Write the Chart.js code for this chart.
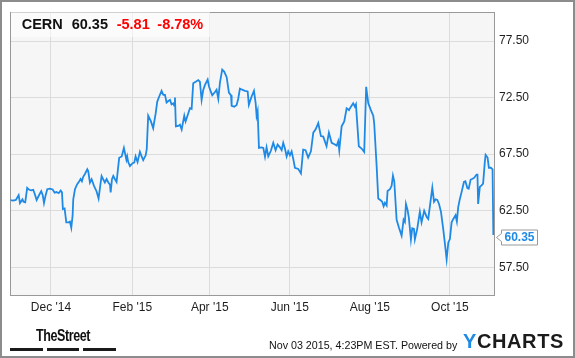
<!DOCTYPE html>
<html>
<head>
<meta charset="utf-8">
<script src="https://cdn.jsdelivr.net/npm/chart.js@4/dist/chart.umd.min.js"></script>
<style>
  html, body { margin: 0; padding: 0; background: #fff; }
  #wrap { position: relative; width: 575px; height: 358px; overflow: hidden; font-family: "Liberation Sans", Arial, sans-serif; }
  #c { position: absolute; left: 0; top: 0; }
  #frame { position: absolute; left: 0; top: 0; width: 575px; height: 358px; box-sizing: border-box; border: 2px solid #8c8c8c; pointer-events: none; }
  #hdrbox { position: absolute; left: 11px; top: 11px; width: 199px; height: 26px; background: rgba(255,255,255,0.55); }
  .h { position: absolute; top: 16px; font-weight: bold; font-size: 14.5px; line-height: 16px; white-space: nowrap; }
  .red { color: #ff0000; }
  .blk { color: #111; }
  #street { position: absolute; left: 36px; top: 326px; font-family: "Liberation Sans", Arial, sans-serif; font-weight: bold; font-size: 17px; line-height: 20px; letter-spacing: -0.6px; color: #111; white-space: nowrap; transform-origin: 0 0; }
  .bar { position: absolute; top: 348px; height: 3px; background: #1a1a1a; }
  #stamp { position: absolute; left: 269px; top: 338.6px; font-size: 10.7px; line-height: 12px; color: #111; white-space: nowrap; }
  #ych { position: absolute; left: 463px; top: 330.4px; font-size: 20px; line-height: 22px; font-weight: bold; letter-spacing: 0.6px; color: #1b1b1b; white-space: nowrap; }
  #ych span { color: #1e8ae6; }
</style>
</head>
<body>
<div id="wrap">
  <canvas id="c" width="575" height="358"></canvas>
  <div id="hdrbox"></div>
  <div class="h blk" style="left:21.7px">CERN</div>
  <div class="h blk" style="left:71.7px">60.35</div>
  <div class="h red" style="left:116.7px">-5.81</div>
  <div class="h red" style="left:157.3px">-8.78%</div>
  <div id="street">TheStreet</div>
  <div class="bar" style="left:10px;width:33px"></div>
  <div class="bar" style="left:47px;width:32px"></div>
  <div class="bar" style="left:83px;width:33px"></div>
  <div id="stamp">Nov 03 2015, 4:23PM EST. Powered by</div>
  <div id="ych"><span>Y</span>CHARTS</div>
  <div id="frame"></div>
</div>
<script>
// Days counted from Nov 03 2014 (day 0)
const days = [
  -2.7,-1.0,1.3,3.4,4.4,6.3,7.1,8.4,9.9,11.5,13.0,14.5,15.6,17.1,18.6,20.6,21.7,22.7,24.0,25.2,
  27.2,29.3,30.8,32.3,33.9,35.4,36.4,37.1,38.4,39.7,41.5,42.5,43.5,44.5,45.0,46.3,48.0,49.6,50.6,51.6,
  52.6,53.9,55.7,56.4,57.7,59.0,60.8,62.8,64.3,65.9,66.6,67.8,69.1,70.4,71.7,73.0,73.5,74.5,75.5,76.8,
  78.0,80.0,81.9,83.6,85.5,86.1,86.9,88.2,90.2,91.5,92.5,94.0,95.8,97.1,98.3,100.2,101.0,102.1,104.2,105.9,
  107.8,109.0,110.5,112.3,113.6,114.9,116.1,117.4,118.7,119.9,121.2,121.9,122.5,123.2,125.0,126.3,127.6,129.6,130.6,132.6,
  133.9,135.2,136.4,138.3,140.2,141.5,142.8,144.0,145.3,147.4,148.4,149.9,150.9,153.0,154.2,155.5,156.8,158.5,160.0,161.9,
  163.6,165.2,165.7,167.7,169.5,170.7,172.0,173.7,175.8,177.9,178.8,180.9,182.7,184.0,184.7,185.5,186.5,188.5,189.8,191.1,
  192.3,193.6,195.6,197.4,199.2,200.7,202.5,203.8,205.0,206.3,207.6,208.8,210.1,211.4,212.6,213.9,216.4,218.5,220.2,222.0,
  224.0,226.1,227.9,229.7,231.7,233.7,235.5,238.0,239.8,241.9,244.4,245.7,246.9,247.7,249.5,251.5,253.3,255.1,256.6,258.3,
  259.6,260.4,262.6,264.7,266.7,268.2,269.8,271.8,273.6,274.3,276.2,277.4,279.4,280.4,281.5,282.5,283.8,284.5,286.3,287.6,
  288.6,289.6,291.4,293.2,295.2,296.7,297.7,298.5,299.7,300.7,302.3,303.3,304.6,305.3,307.1,309.1,310.4,312.4,314.3,315.5,
  317.3,318.6,319.9,321.1,322.4,323.7,325.2,326.9,328.2,329.5,330.8,332.0,333.3,334.5,336.3,337.3,338.3,339.5,340.8,342.7,
  343.8,345.3,346.3,347.8,348.9,350.4,352.3,353.0,353.5,354.8,356.1,357.3,358.6,359.2,360.7,361.7,363.2,364.5,365.1
];
const prices = [
  63.44,63.40,63.45,63.88,63.18,63.50,63.30,63.24,64.52,64.35,64.30,64.35,64.00,63.44,63.80,64.23,63.90,63.18,63.90,64.40,
  64.45,64.38,64.10,64.15,64.05,64.28,64.12,62.65,62.70,61.47,61.47,61.53,61.00,62.06,63.50,64.40,64.85,65.10,65.30,65.10,
  65.50,65.75,66.16,66.00,64.98,65.28,64.70,64.20,63.58,65.00,65.57,65.28,65.00,65.30,65.00,64.80,64.12,65.28,65.57,65.28,
  65.04,67.18,67.30,68.05,67.00,67.30,66.80,66.45,66.70,66.75,67.30,66.80,67.70,67.30,66.97,67.40,67.95,70.90,70.40,69.80,
  71.10,72.15,72.60,73.10,72.75,72.75,72.06,72.20,72.30,71.90,72.00,71.80,72.50,69.96,70.00,70.10,69.67,70.90,70.40,71.10,
  71.56,71.50,73.76,73.90,74.05,73.90,72.30,73.15,73.60,74.10,73.50,73.00,72.70,73.00,73.20,72.40,73.85,74.98,74.80,74.30,
  72.94,72.70,71.77,71.70,71.85,72.40,73.30,73.20,73.10,73.05,71.86,72.60,73.10,72.00,70.90,71.30,68.05,68.10,68.05,67.27,
  68.10,67.30,67.80,68.50,67.85,68.35,68.10,67.85,68.50,68.00,67.30,67.75,67.40,67.75,67.10,66.30,66.20,65.80,67.90,67.85,
  67.20,67.75,69.40,69.70,70.25,69.10,69.05,68.20,69.40,68.50,68.35,68.25,68.65,67.85,69.96,70.40,71.56,71.40,71.70,72.00,
  71.70,71.90,68.20,68.00,67.70,73.46,72.00,71.40,70.90,70.25,66.40,63.58,63.40,63.30,62.90,63.20,62.97,64.25,64.40,64.70,
  65.60,65.10,61.70,61.00,60.30,61.70,61.50,63.10,62.60,61.90,59.96,60.95,60.90,59.96,60.90,62.40,61.47,62.50,61.95,61.77,
  63.40,64.54,63.30,63.50,63.45,63.10,62.40,60.90,59.60,58.20,59.70,60.00,61.47,61.75,62.10,61.55,62.80,63.50,64.10,65.04,
  65.10,64.50,64.45,65.25,65.30,65.40,65.70,65.70,63.10,64.60,64.75,64.90,66.80,67.44,67.20,66.30,66.30,66.16,60.35
];
const xTickDays = [28, 90, 149, 210, 271, 332];
const xTickLabels = ["Dec '14", "Feb '15", "Apr '15", "Jun '15", "Aug '15", "Oct '15"];
const yTickValues = [57.5, 62.5, 67.5, 72.5, 77.5];
const X_MIN = -3.2, X_MAX = 365.6, Y_MIN = 55.05, Y_MAX = 80.05;

const points = days.map((d, i) => ({ x: d, y: prices[i] }));
const FONT = { family: "'Liberation Sans', Arial, sans-serif", size: 12 };
const LINE_COLOR = '#1e8ae6';

// condense the footer wordmark to its width in the reference
(function () {
  const el = document.getElementById('street');
  const w = el.offsetWidth;
  if (w > 0) el.style.transform = 'scaleX(' + (54 / w) + ')';
})();

const bgPlugin = {
  id: 'bg',
  beforeDraw(chart) {
    const { ctx, chartArea: a } = chart;
    ctx.save();
    ctx.fillStyle = '#ffffff';
    ctx.fillRect(0, 0, chart.width, chart.height);
    ctx.fillStyle = '#f6f6f6';
    ctx.fillRect(a.left, a.top, a.right - a.left, a.bottom - a.top);
    ctx.restore();
  },
  beforeDatasetsDraw(chart) {
    const { ctx, chartArea: a } = chart;
    ctx.save();
    ctx.strokeStyle = '#999999';
    ctx.lineWidth = 1;
    ctx.strokeRect(Math.round(a.left) + 0.5, Math.round(a.top) + 0.5, Math.round(a.right - a.left), Math.round(a.bottom - a.top));
    ctx.restore();
  }
};

const lastLabelPlugin = {
  id: 'lastLabel',
  afterDatasetsDraw(chart) {
    const { ctx, chartArea: a, scales } = chart;
    const v = prices[prices.length - 1];
    const y = Math.round(scales.y.getPixelForValue(v)) + 2.5;
    const x0 = Math.round(a.right) + 7.5, w = 36, h = 15;
    ctx.save();
    ctx.beginPath();
    ctx.moveTo(x0, y - 4);
    ctx.lineTo(x0 - 5, y);
    ctx.lineTo(x0, y + 4);
    ctx.lineTo(x0, y + h / 2);
    ctx.lineTo(x0 + w, y + h / 2);
    ctx.lineTo(x0 + w, y - h / 2);
    ctx.lineTo(x0, y - h / 2);
    ctx.closePath();
    ctx.fillStyle = '#ffffff';
    ctx.fill();
    ctx.strokeStyle = '#999999';
    ctx.lineWidth = 1;
    ctx.stroke();
    ctx.fillStyle = LINE_COLOR;
    ctx.font = "bold 12px 'Liberation Sans', Arial, sans-serif";
    ctx.textBaseline = 'middle';
    ctx.textAlign = 'left';
    ctx.fillText(v.toFixed(2), x0 + 3, y + 0.5);
    ctx.restore();
  }
};

new Chart(document.getElementById('c'), {
  type: 'line',
  data: {
    datasets: [{
      data: points,
      borderColor: LINE_COLOR,
      borderWidth: 1.8,
      pointRadius: 0,
      tension: 0,
      fill: false
    }]
  },
  options: {
    responsive: false,
    devicePixelRatio: 1,
    animation: false,
    layout: { padding: { left: 10, top: 10, right: 0, bottom: 0 } },
    plugins: { legend: { display: false }, tooltip: { enabled: false }, title: { display: false } },
    scales: {
      x: {
        type: 'linear',
        min: X_MIN, max: X_MAX,
        afterBuildTicks: s => { s.ticks = xTickDays.map(v => ({ value: v })); },
        afterFit: s => { s.height = 63; },
        ticks: {
          autoSkip: false, maxRotation: 0, padding: 5,
          font: FONT, color: '#1e1e1e',
          callback: (v, i) => xTickLabels[i]
        },
        grid: { color: '#dcdcdc', drawTicks: false, lineWidth: 1 },
        border: { display: false }
      },
      y: {
        position: 'right',
        min: Y_MIN, max: Y_MAX,
        afterBuildTicks: s => { s.ticks = yTickValues.map(v => ({ value: v })); },
        afterFit: s => { s.width = 81; },
        ticks: {
          padding: 5, font: FONT, color: '#1e1e1e',
          callback: v => Number(v).toFixed(2)
        },
        grid: { color: '#dcdcdc', drawTicks: false, lineWidth: 1 },
        border: { display: false }
      }
    }
  },
  plugins: [bgPlugin, lastLabelPlugin]
});
</script>
</body>
</html>
